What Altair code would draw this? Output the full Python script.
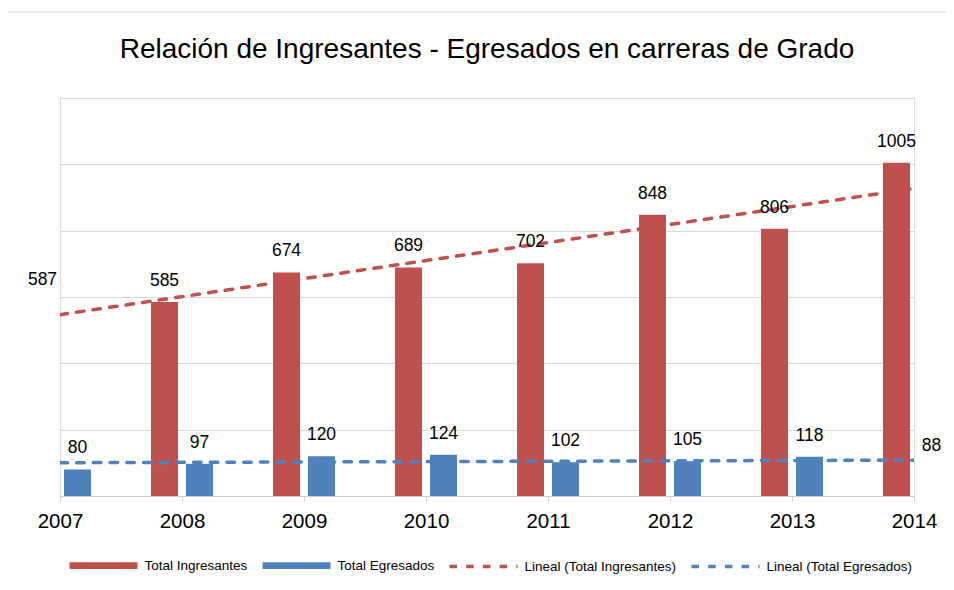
import altair as alt
import pandas as pd

# ---- data ----
years = [2007, 2008, 2009, 2010, 2011, 2012, 2013, 2014]
ingresantes = [587, 585, 674, 689, 702, 848, 806, 1005]
egresados = [80, 97, 120, 124, 102, 105, 118, 88]
legend_labels = ["Total Ingresantes", "Total Egresados",
                 "Lineal (Total Ingresantes)", "Lineal (Total Egresados)"]
y_grid = [0, 200, 400, 600, 800, 1000, 1200]
title_text = "Relación de Ingresantes - Egresados en carreras de Grado"

RED = "#C0504D"
BLUE = "#4F81BD"
FONT = "Liberation Sans"
GRID = "#d9d9d9"

df_in = pd.DataFrame({"year": years, "value": ingresantes})
df_eg = pd.DataFrame({"year": years, "value": egresados})
df_legend = pd.DataFrame({"serie": legend_labels})
df_frame = pd.DataFrame({"k": [0]})

x_enc = alt.X(
    "year:Q",
    scale=alt.Scale(domain=[2007, 2014], nice=False, zero=False, padding=0),
    axis=alt.Axis(values=years, format="d", title=None, grid=False,
                  labelFont=FONT, labelFontSize=20.5, labelColor="black",
                  labelPadding=10.5, labelFlush=False, labelOverlap=False,
                  tickSize=5, tickColor="#cfcfcf", domainColor="#cfcfcf",
                  tickWidth=1, domainWidth=1),
)
y_enc = alt.Y(
    "value:Q",
    scale=alt.Scale(domain=[0, 1200], nice=False, padding=0),
    axis=alt.Axis(values=y_grid, title=None, labels=False, ticks=False,
                  domain=False, grid=True, gridColor=GRID, gridWidth=1),
)

frame_top = alt.Chart(df_frame).mark_rule(color="#d9d9d9", strokeWidth=1).encode(
    x=alt.value(-54), x2=alt.value(900), y=alt.value(-86))
frame_left = alt.Chart(df_frame).mark_rule(color="#e3e3e3", strokeWidth=2.5).encode(
    x=alt.value(-53.5), y=alt.value(-86), y2=alt.value(520))

bars_in = alt.Chart(df_in).mark_bar(size=27, xOffset=-17.5, color=RED, clip=True).encode(
    x=x_enc, y=y_enc)
bars_eg = alt.Chart(df_eg).mark_bar(size=27, xOffset=17.5, color=BLUE, clip=True).encode(
    x=x_enc, y=y_enc)

dash = [7.5, 9.2]
trend_in = alt.Chart(df_in).transform_regression("year", "value").mark_line(
    color=RED, strokeWidth=3.5, strokeDash=dash, strokeCap="round", clip=True
).encode(x=x_enc, y=y_enc)
trend_eg = alt.Chart(df_eg).transform_regression("year", "value").mark_line(
    color=BLUE, strokeWidth=3.5, strokeDash=dash, strokeCap="round", clip=True
).encode(x=x_enc, y=y_enc)

txt = dict(dy=-16, baseline="alphabetic", align="center", font=FONT,
           fontSize=17.5, color="black")
lab_in = alt.Chart(df_in).mark_text(xOffset=-17.5, **txt).encode(
    x=x_enc, y=y_enc, text=alt.Text("value:Q", format="d"))
lab_eg = alt.Chart(df_eg).mark_text(xOffset=17.5, **txt).encode(
    x=x_enc, y=y_enc, text=alt.Text("value:Q", format="d"))

rect_path = "M-1,-0.05H1M-1,0.05H1"
line_path = "M-1,0H1"
leg = alt.Legend(title=None, orient="none", legendX=7.5, legendY=431.5,
                 direction="horizontal", symbolSize=4624, symbolStrokeWidth=3.5,
                 symbolOpacity=1,
                 labelFont=FONT, labelFontSize=13.5, labelColor="black",
                 labelOffset=5, columnPadding=8, padding=0, symbolOffset=0,
                 labelLimit=0)
legend_layer = alt.Chart(df_legend).transform_filter("false").mark_point(
    filled=False, opacity=1
).encode(
    color=alt.Color("serie:N", scale=alt.Scale(domain=legend_labels,
                                               range=[RED, BLUE, RED, BLUE]), legend=leg),
    shape=alt.Shape("serie:N", scale=alt.Scale(domain=legend_labels,
                                               range=[rect_path, rect_path, line_path, line_path]),
                    legend=leg),
    strokeDash=alt.StrokeDash("serie:N", scale=alt.Scale(domain=legend_labels,
                                                         range=[[1, 0], [1, 0], dash, dash]),
                              legend=leg),
)

chart = alt.layer(
    frame_top, frame_left, bars_in, bars_eg, trend_in, trend_eg, lab_in, lab_eg, legend_layer
).properties(
    width=854,
    height=398,
    autosize=alt.AutoSizeParams(type="none"),
    padding={"left": 52, "top": 90, "right": 32, "bottom": 84},
    title=alt.TitleParams(title_text, font=FONT, fontSize=28, fontWeight="normal",
                          color="black", anchor="middle", frame="group", offset=-53.5),
).configure_view(stroke=None).configure(background="white")

chart.save("out.html", embed_options={"renderer": "svg", "actions": False})
